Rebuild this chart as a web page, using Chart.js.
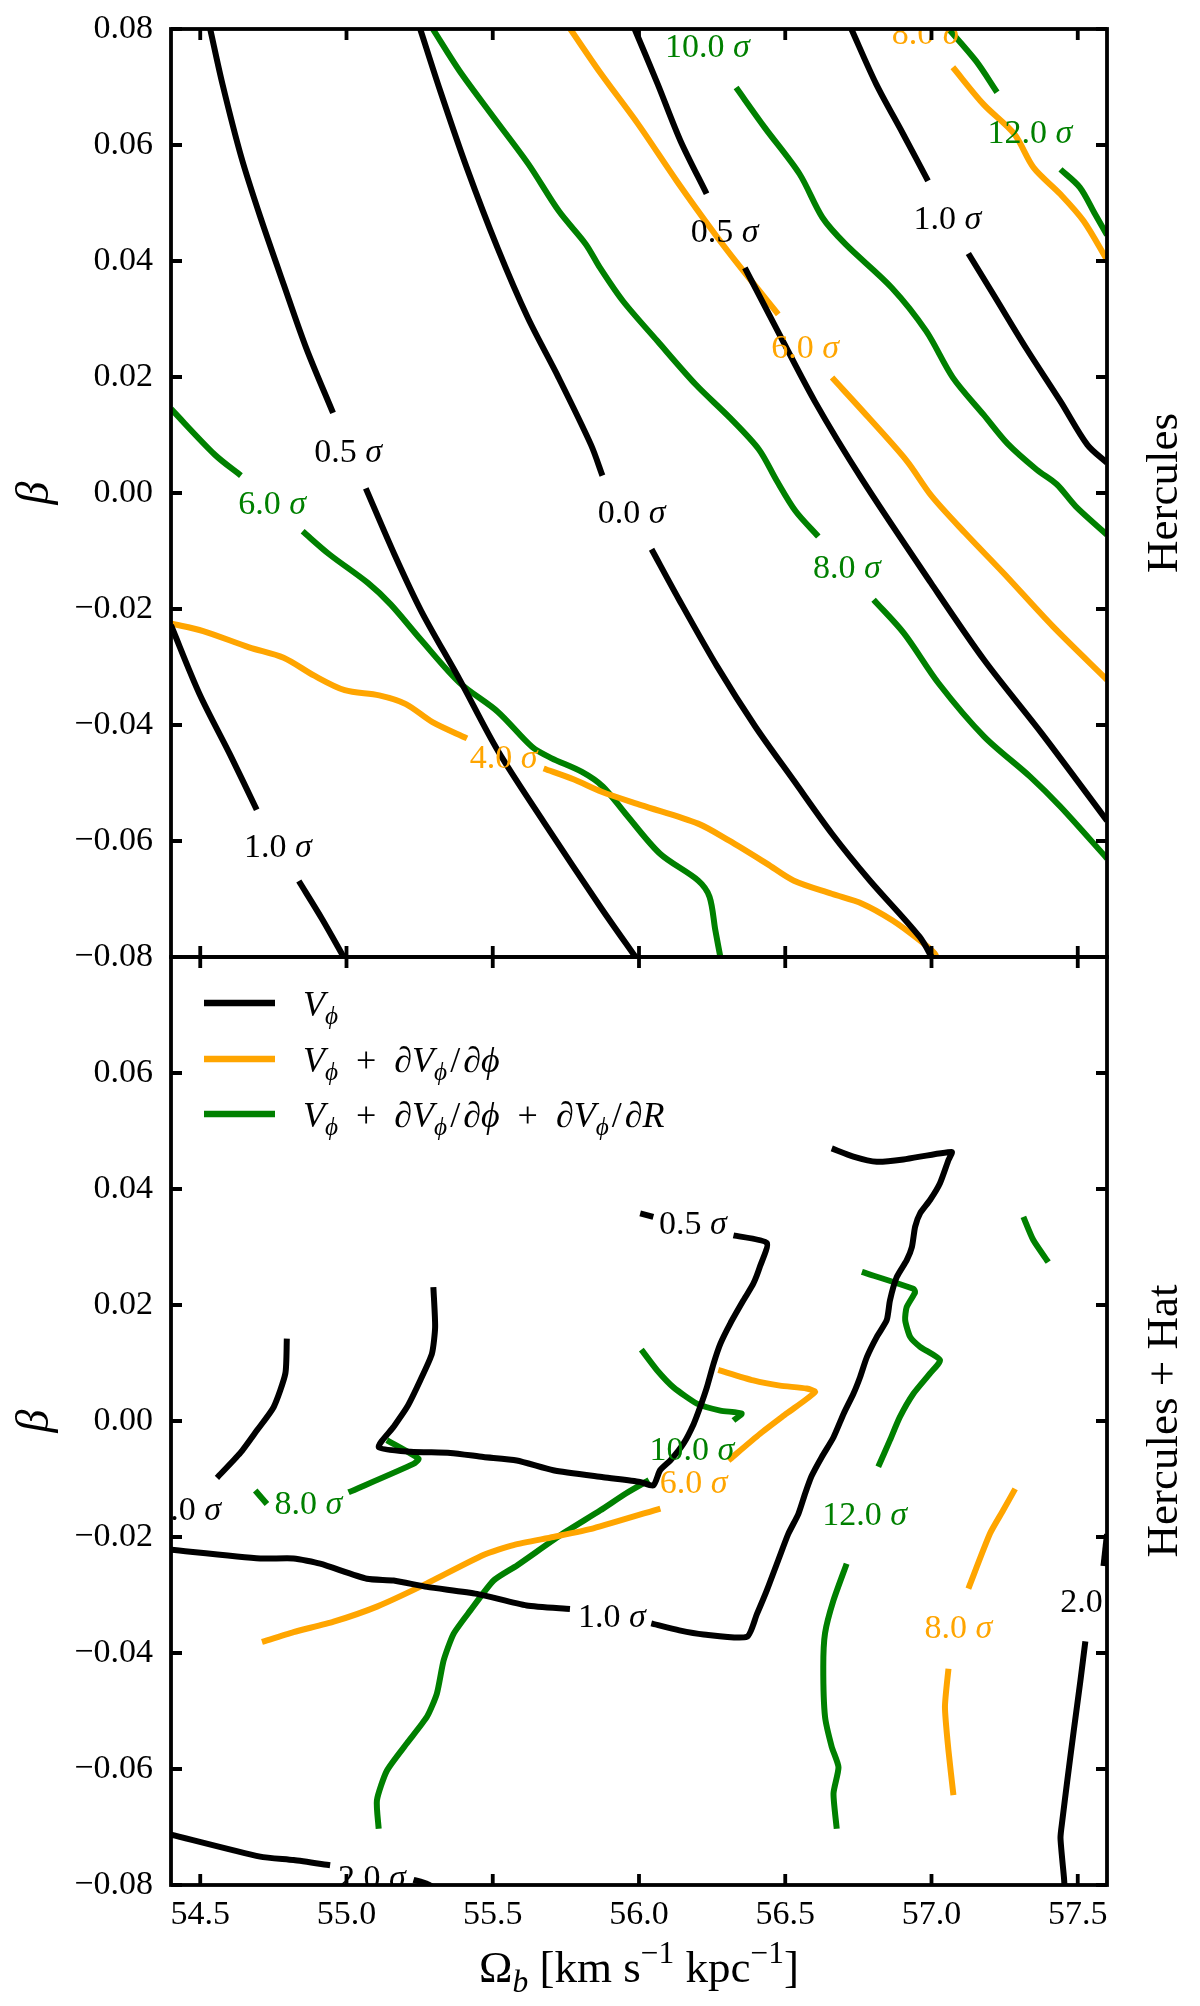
<!DOCTYPE html>
<html>
<head>
<meta charset="utf-8">
<script src="https://cdn.jsdelivr.net/npm/chart.js@4.4.1/dist/chart.umd.min.js"></script>
<style>
html, body { margin: 0; padding: 0; background: #fff; }
#wrap { position: relative; width: 1200px; height: 2006px; overflow: hidden; }
canvas { position: absolute; left: 0; }
#top { top: 0; }
#bot { top: 940px; }
</style>
</head>
<body>
<div id="wrap">
  <canvas id="top" width="1200" height="980"></canvas>
  <canvas id="bot" width="1200" height="1066"></canvas>
</div>
<script>
// ---- axis ticks ----
var omegaTicks = [54.5, 55.0, 55.5, 56.0, 56.5, 57.0, 57.5];
var betaTicks = [0.08, 0.06, 0.04, 0.02, 0.0, -0.02, -0.04, -0.06, -0.08];

// ---- Hercules panel: contour segments [Omega_b, beta] ----
var hercVphi = [
  [[54.534,0.08],[54.576,0.0705],[54.641,0.0578],[54.706,0.0475],[54.785,0.036],[54.863,0.0249],[54.954,0.0138]],
  [[55.066,0.0008],[55.164,-0.0106],[55.256,-0.0204],[55.386,-0.0321],[55.517,-0.0444],[55.674,-0.0567],[55.87,-0.0715],[55.995,-0.0805]],
  [[54.4,-0.0228],[54.497,-0.0346],[54.602,-0.0451],[54.693,-0.0546]],
  [[54.837,-0.0669],[54.916,-0.0734],[54.996,-0.0805]],
  [[55.252,0.08],[55.32,0.0694],[55.411,0.0561],[55.516,0.0423],[55.62,0.0302],[55.725,0.0199],[55.836,0.0083],[55.875,0.003]],
  [[56.043,-0.0097],[56.137,-0.0184],[56.267,-0.0299],[56.398,-0.0403],[56.528,-0.0495],[56.659,-0.0587],[56.789,-0.0668],[56.959,-0.0765],[57.006,-0.0805]],
  [[55.985,0.08],[56.064,0.0705],[56.142,0.0607],[56.231,0.0516]],
  [[56.362,0.0388],[56.457,0.0296],[56.601,0.0158],[56.763,0.0023],[56.998,-0.0155],[57.18,-0.0288],[57.376,-0.0414],[57.6,-0.0565]],
  [[56.726,0.08],[56.811,0.0705],[56.903,0.0619],[56.988,0.0538]],
  [[57.126,0.0413],[57.218,0.0337],[57.323,0.025],[57.441,0.0158],[57.533,0.0083],[57.6,0.0052]]
];
var hercDphi = [
  [[54.4,-0.0225],[54.51,-0.0238],[54.667,-0.0266],[54.785,-0.0284],[54.89,-0.0315],[54.994,-0.034],[55.112,-0.0349],[55.203,-0.0364],[55.294,-0.0395],[55.412,-0.0423]],
  [[55.674,-0.0475],[55.778,-0.0494],[55.872,-0.0515],[56.007,-0.0538],[56.202,-0.057],[56.307,-0.0599],[56.437,-0.0639],[56.528,-0.0668],[56.659,-0.0691],[56.763,-0.0708],[56.867,-0.0737],[56.959,-0.0771],[57.011,-0.0794],[57.02,-0.0805]],
  [[55.765,0.08],[55.867,0.0725],[55.997,0.0636],[56.129,0.0538],[56.26,0.0446],[56.339,0.0394],[56.476,0.0308]],
  [[56.66,0.0199],[56.785,0.013],[56.916,0.0055],[57.0,-0.0005],[57.115,-0.0069],[57.246,-0.0138],[57.415,-0.023],[57.6,-0.0322]],
  [[57.073,0.0734],[57.178,0.067],[57.283,0.0619],[57.349,0.0561],[57.441,0.0515],[57.52,0.0469],[57.6,0.0402]]
];
var hercFull = [
  [[54.4,0.0145],[54.55,0.0066],[54.639,0.003]],
  [[54.85,-0.0066],[54.942,-0.0106],[55.073,-0.0155],[55.151,-0.0192],[55.256,-0.0254],[55.386,-0.0327],[55.517,-0.0377],[55.635,-0.0438],[55.7,-0.0457],[55.805,-0.0481],[55.876,-0.0506],[55.954,-0.0553],[56.072,-0.0622],[56.202,-0.0668],[56.241,-0.0696],[56.261,-0.0754],[56.28,-0.0805]],
  [[55.295,0.08],[55.386,0.0728],[55.504,0.0647],[55.622,0.0567],[55.726,0.0486],[55.818,0.0429],[55.867,0.0388],[55.945,0.0331],[56.063,0.0262],[56.194,0.0187],[56.312,0.0129],[56.41,0.0075],[56.47,0.0022],[56.535,-0.0031],[56.613,-0.0075]],
  [[56.802,-0.0184],[56.906,-0.0242],[57.024,-0.0328],[57.18,-0.042],[57.337,-0.0489],[57.441,-0.0541],[57.6,-0.063]],
  [[56.332,0.0699],[56.43,0.063],[56.549,0.055],[56.627,0.0475],[56.706,0.0429],[56.864,0.0354],[56.982,0.0279],[57.073,0.0199],[57.178,0.0135],[57.26,0.0085],[57.36,0.004],[57.428,0.0015],[57.493,-0.0023],[57.6,-0.0072]],
  [[57.05,0.0805],[57.152,0.0745],[57.224,0.0691]],
  [[57.441,0.0558],[57.507,0.0527],[57.559,0.0481],[57.6,0.0445]]
];
// [Omega_b, beta, level, series]
var hercLabels = [
  [55.006,0.0074,'0.5','v'], [54.765,-0.0607,'1.0','v'], [55.975,-0.0032,'0.0','v'], [56.293,0.0452,'0.5','v'], [57.054,0.0475,'1.0','v'],
  [55.537,-0.0454,'4.0','d'], [56.568,0.0253,'6.0','d'], [56.98,0.0794,'8.0','d'],
  [54.746,-0.0017,'6.0','f'], [56.711,-0.0127,'8.0','f'], [56.234,0.0771,'10.0','f'], [57.336,0.0624,'12.0','f']
];

// ---- Hercules + Hat panel ----
var hatVphi = [
  [[54.557,-0.0098],[54.637,-0.0055],[54.694,-0.0016],[54.751,0.0024],[54.791,0.0082],[54.796,0.0142]],
  [[55.297,0.0231],[55.303,0.0162],[55.292,0.0116],[55.252,0.007],[55.207,0.0024],[55.161,-0.001],[55.11,-0.0045],[55.219,-0.0053],[55.355,-0.0055],[55.468,-0.0062],[55.582,-0.0068],[55.707,-0.0085],[55.878,-0.0097],[56.003,-0.0105],[56.049,-0.0111],[56.072,-0.0085],[56.107,-0.0068],[56.152,-0.0039],[56.187,-0.0005],[56.209,0.0024],[56.232,0.0058],[56.255,0.0099],[56.278,0.0133],[56.312,0.0168],[56.357,0.0208],[56.391,0.0237],[56.414,0.0267],[56.437,0.0307],[56.323,0.032]],
  [[56.049,0.0352],[56.004,0.0358]],
  [[54.4,-0.0222],[54.705,-0.0237],[54.819,-0.0237],[54.91,-0.0246],[55.07,-0.0272],[55.161,-0.0275],[55.275,-0.0286],[55.446,-0.0298],[55.616,-0.0318],[55.764,-0.0324]],
  [[56.042,-0.0349],[56.138,-0.0361],[56.221,-0.0368],[56.369,-0.0372],[56.403,-0.0333],[56.437,-0.0292],[56.476,-0.024],[56.51,-0.0195],[56.545,-0.016],[56.568,-0.0125],[56.59,-0.0095],[56.625,-0.0062],[56.665,-0.0028],[56.7,0.0013],[56.733,0.0047],[56.756,0.0076],[56.779,0.011],[56.813,0.0145],[56.847,0.0174],[56.858,0.0208],[56.881,0.0248],[56.915,0.0277],[56.933,0.03],[56.944,0.0335],[56.961,0.0358],[56.995,0.0381],[57.029,0.041],[57.058,0.045],[57.069,0.0464],[56.904,0.0451],[56.813,0.0447],[56.733,0.0456],[56.659,0.047]],
  [[54.4,-0.0713],[54.705,-0.0751],[54.819,-0.0757],[54.944,-0.0766]],
  [[55.229,-0.0791],[55.275,-0.0798],[55.3,-0.0805]],
  [[57.6,-0.0195],[57.588,-0.025]],
  [[57.526,-0.038],[57.509,-0.0448],[57.486,-0.0535],[57.464,-0.0621],[57.447,-0.069],[57.441,-0.0719],[57.453,-0.0788],[57.455,-0.0805]]
];
var hatDphi = [
  [[54.711,-0.0381],[54.819,-0.0364],[54.956,-0.0346],[55.104,-0.032],[55.263,-0.0283],[55.468,-0.0231],[55.571,-0.0214],[55.707,-0.02],[55.844,-0.0185],[56.073,-0.0151]],
  [[56.306,-0.0068],[56.414,-0.0022],[56.505,0.0013],[56.602,0.005],[56.573,0.0056],[56.482,0.0061],[56.391,0.007],[56.271,0.0088]],
  [[57.286,-0.0117],[57.245,-0.0154],[57.2,-0.0194],[57.126,-0.0289]],
  [[57.058,-0.0427],[57.046,-0.0493],[57.058,-0.0568],[57.075,-0.0645]]
];
var hatFull = [
  [[54.688,-0.012],[54.728,-0.0143]],
  [[55.007,-0.0123],[55.229,-0.0074],[55.246,-0.0065],[55.138,-0.0033]],
  [[55.11,-0.0703],[55.104,-0.0654],[55.138,-0.0603],[55.206,-0.0556],[55.275,-0.051],[55.309,-0.047],[55.332,-0.0413],[55.366,-0.0367],[55.423,-0.0327],[55.503,-0.0275],[55.583,-0.0249],[55.731,-0.0197],[55.868,-0.0154],[55.955,-0.0125],[56.034,-0.0102]],
  [[56.323,0.0001],[56.351,0.0013],[56.278,0.0018],[56.198,0.003],[56.118,0.0058],[56.061,0.0088],[56.008,0.0123]],
  [[56.762,0.0257],[56.938,0.0228],[56.944,0.0222],[56.915,0.0196],[56.91,0.0174],[56.927,0.0145],[56.961,0.0128],[57.029,0.0105],[56.995,0.0082],[56.938,0.0047],[56.892,0.0007],[56.858,-0.0033],[56.818,-0.0079]],
  [[56.71,-0.0246],[56.665,-0.0309],[56.636,-0.0366],[56.63,-0.0424],[56.636,-0.051],[56.659,-0.0562],[56.682,-0.0597],[56.665,-0.0642],[56.676,-0.0703]],
  [[57.314,0.0352],[57.348,0.0312],[57.399,0.0274]]
];
var hatLabels = [
  [54.455,-0.0151,'1.0','v'], [55.907,-0.0335,'1.0','v'], [55.087,-0.0786,'2.0','v'], [56.184,0.0343,'0.5','v'], [57.556,-0.0309,'2.0','v'],
  [56.187,-0.0105,'6.0','d'], [57.092,-0.0355,'8.0','d'],
  [54.87,-0.014,'8.0','f'], [56.181,-0.0048,'10.0','f'], [56.771,-0.016,'12.0','f']
];

var SERIF = '"Liberation Serif", "DejaVu Serif", serif';
var COLORS = { v: '#000000', d: '#ffa500', f: '#008000' };
var TICK = 11;
var PLUS = '\u2002+\u2002', SLASH = '\u200a/\u200a';

// draw a run of text pieces: r = roman, i = italic, sb = italic subscript, sp = roman superscript
function drawRich(ctx, parts, x, y, size, align) {
  function fontFor(k) {
    var s = (k === 'sb' || k === 'sp') ? size * 0.7 : size;
    return ((k === 'i' || k === 'sb') ? 'italic ' : '') + s + 'px ' + SERIF;
  }
  ctx.textAlign = 'left';
  ctx.textBaseline = 'alphabetic';
  var w = 0;
  parts.forEach(function (p) { ctx.font = fontFor(p[1]); w += ctx.measureText(p[0]).width; });
  var cx = align === 'center' ? x - w / 2 : x;
  parts.forEach(function (p) {
    ctx.font = fontFor(p[1]);
    var dy = p[1] === 'sb' ? size * 0.22 : (p[1] === 'sp' ? -size * 0.42 : 0);
    ctx.fillText(p[0], cx, y + dy);
    cx += ctx.measureText(p[0]).width;
  });
}

function toDatasets(segs, key, tension) {
  return segs.map(function (seg) {
    return {
      data: seg.map(function (p) { return { x: p[0], y: p[1] }; }),
      showLine: true, borderColor: COLORS[key], borderWidth: 6,
      pointRadius: 0, pointHoverRadius: 0, tension: tension, fill: false, clip: 0,
      borderCapStyle: 'butt', borderJoinStyle: 'round'
    };
  });
}

function fmtBeta(v) {
  if (Math.abs(v) < 1e-9) return '0.00';
  return (v < 0 ? '\u2212' : '') + Math.abs(v).toFixed(2);
}

function makeScales(showX, xHeight, keepTop) {
  return {
    x: {
      type: 'linear', min: 54.4, max: 57.6,
      afterBuildTicks: function (s) { s.ticks = omegaTicks.map(function (v) { return { value: v }; }); },
      afterFit: function (s) { s.height = xHeight; s.paddingLeft = 0; s.paddingRight = 0; },
      grid: { display: false, drawTicks: false }, border: { display: false },
      ticks: { display: showX, padding: 10, color: '#000', autoSkip: false, maxRotation: 0,
        font: { family: SERIF, size: 34 }, callback: function (v) { return v.toFixed(1); } }
    },
    y: {
      type: 'linear', min: -0.08, max: 0.08, position: 'left',
      afterBuildTicks: function (s) {
        s.ticks = betaTicks.filter(function (v) { return keepTop || v < 0.079; })
          .map(function (v) { return { value: v }; });
      },
      afterFit: function (s) { s.width = 171; s.paddingTop = 0; s.paddingBottom = 0; },
      grid: { display: false, drawTicks: false }, border: { display: false },
      ticks: { padding: 18, color: '#000', autoSkip: false,
        font: { family: SERIF, size: 34 }, callback: function (v) { return fmtBeta(v); } }
    }
  };
}

function panelPlugin(labels, sideText, isBottom) {
  return {
    id: 'panelDeco',
    afterDatasetsDraw: function (chart) {
      var ctx = chart.ctx, a = chart.chartArea, sx = chart.scales.x, sy = chart.scales.y;
      // inline contour labels, clipped to the axes
      ctx.save();
      ctx.beginPath();
      ctx.rect(a.left, a.top, a.right - a.left, a.bottom - a.top);
      ctx.clip();
      labels.forEach(function (l) {
        ctx.fillStyle = COLORS[l[3]];
        drawRich(ctx, [[l[2] + ' ', 'r'], ['\u03c3', 'i']],
          sx.getPixelForValue(l[0]), sy.getPixelForValue(l[1]) + 0.338 * 34, 34, 'center');
      });
      ctx.restore();

      // frame and inward ticks
      ctx.save();
      ctx.strokeStyle = '#000';
      ctx.lineWidth = 3.8;
      ctx.lineCap = 'butt';
      ctx.strokeRect(a.left, a.top, a.right - a.left, a.bottom - a.top);
      ctx.beginPath();
      omegaTicks.forEach(function (v) {
        var px = sx.getPixelForValue(v);
        ctx.moveTo(px, a.bottom); ctx.lineTo(px, a.bottom - TICK);
        ctx.moveTo(px, a.top); ctx.lineTo(px, a.top + TICK);
      });
      betaTicks.forEach(function (v) {
        var py = sy.getPixelForValue(v);
        ctx.moveTo(a.left, py); ctx.lineTo(a.left + TICK, py);
        ctx.moveTo(a.right, py); ctx.lineTo(a.right - TICK, py);
      });
      ctx.stroke();
      ctx.restore();

      // beta label and panel name
      var midY = (a.top + a.bottom) / 2;
      ctx.save();
      ctx.fillStyle = '#000';
      ctx.translate(48, midY);
      ctx.rotate(-Math.PI / 2);
      drawRich(ctx, [['\u03b2', 'i']], 0, 0, 46, 'center');
      ctx.restore();
      ctx.save();
      ctx.fillStyle = '#000';
      ctx.translate(1177, midY);
      ctx.rotate(-Math.PI / 2);
      drawRich(ctx, [[sideText, 'r']], 0, 0, 45, 'center');
      ctx.restore();

      if (isBottom) {
        // legend
        var items = [
          ['v', [['V', 'i'], ['\u03d5', 'sb']]],
          ['d', [['V', 'i'], ['\u03d5', 'sb'], [PLUS, 'r'], ['\u2202', 'i'], ['V', 'i'], ['\u03d5', 'sb'], [SLASH, 'r'], ['\u2202', 'i'], ['\u03d5', 'i']]],
          ['f', [['V', 'i'], ['\u03d5', 'sb'], [PLUS, 'r'], ['\u2202', 'i'], ['V', 'i'], ['\u03d5', 'sb'], [SLASH, 'r'], ['\u2202', 'i'], ['\u03d5', 'i'],
                 [PLUS, 'r'], ['\u2202', 'i'], ['V', 'i'], ['\u03d5', 'sb'], [SLASH, 'r'], ['\u2202', 'i'], ['R', 'i']]]
        ];
        var rows = [46, 102, 157];
        ctx.save();
        items.forEach(function (it, i) {
          var yy = a.top + rows[i];
          ctx.strokeStyle = COLORS[it[0]];
          ctx.lineWidth = 6.5;
          ctx.beginPath();
          ctx.moveTo(a.left + 33, yy); ctx.lineTo(a.left + 104, yy);
          ctx.stroke();
          ctx.fillStyle = '#000';
          drawRich(ctx, it[1], a.left + 132, yy + 13, 36, 'left');
        });
        // x axis title
        ctx.fillStyle = '#000';
        drawRich(ctx, [['\u03a9', 'r'], ['b', 'sb'], [' [km s', 'r'], ['\u22121', 'sp'], [' kpc', 'r'], ['\u22121', 'sp'], [']', 'r']],
          (a.left + a.right) / 2, 1042, 45, 'center');
        ctx.restore();
      }
    }
  };
}

function makeChart(id, sets, labels, sideText, isBottom) {
  return new Chart(document.getElementById(id), {
    type: 'scatter',
    data: { datasets: sets },
    options: {
      responsive: false, animation: false, events: [],
      layout: { padding: { left: 0, right: 93, top: isBottom ? 17 : 29, bottom: 0 } },
      plugins: { legend: { display: false }, tooltip: { enabled: false } },
      scales: makeScales(isBottom, isBottom ? 121 : 23, !isBottom)
    },
    plugins: [panelPlugin(labels, sideText, isBottom)]
  });
}

makeChart('top',
  toDatasets(hercVphi, 'v', 0.3).concat(toDatasets(hercDphi, 'd', 0.3), toDatasets(hercFull, 'f', 0.3)),
  hercLabels, 'Hercules', false);
makeChart('bot',
  toDatasets(hatVphi, 'v', 0.2).concat(toDatasets(hatDphi, 'd', 0.2), toDatasets(hatFull, 'f', 0.2)),
  hatLabels, 'Hercules + Hat', true);
</script>
</body>
</html>
